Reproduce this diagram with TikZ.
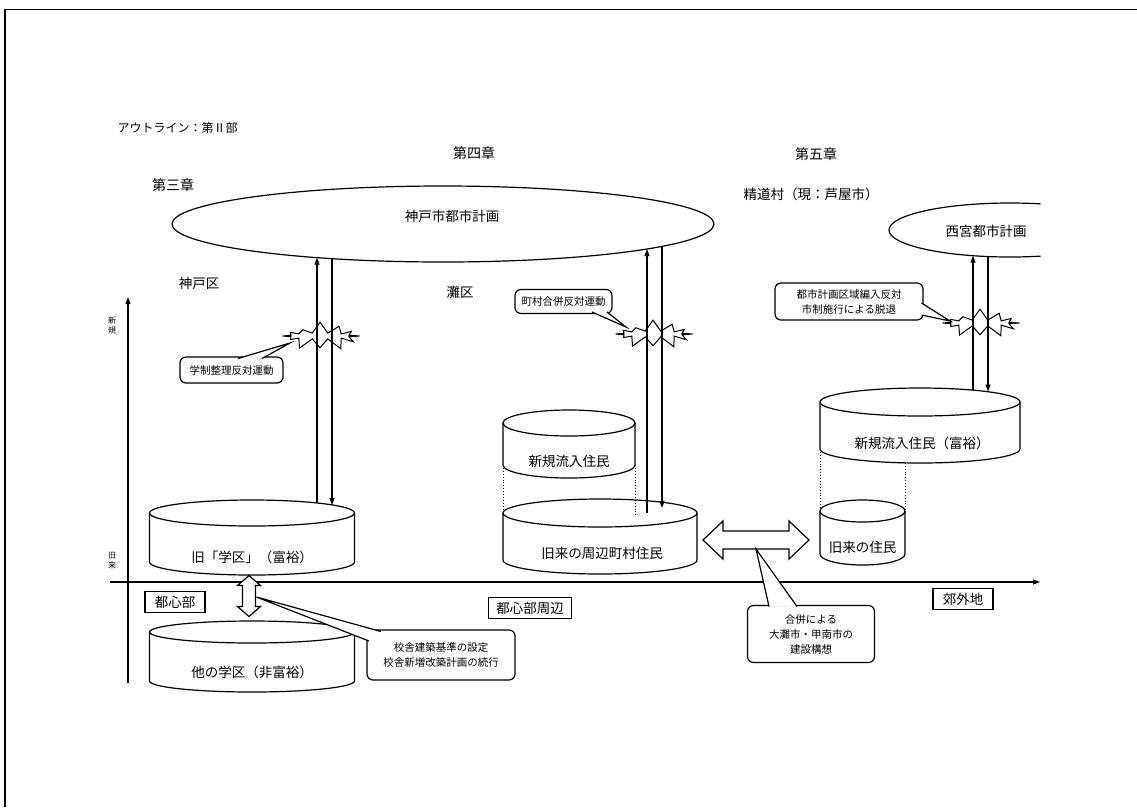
\documentclass[tikz,border=0pt]{standalone}
\usepackage{fontspec}
\setmainfont{Noto Sans CJK JP}
\usetikzlibrary{shapes.geometric,shapes.symbols,arrows.meta}
\newcommand\drawcyl[6]{%
  \node[inner sep=0pt,minimum width={2*#3pt},minimum height={(#5-#4+2*#6)*1pt}] (#1) at (#2,{(#4+#5)/2}) {};
  \draw (#2-#3,#4) -- (#2-#3,#5) arc[start angle=180,end angle=0,x radius=#3,y radius=#6] -- (#2+#3,#4);
  \draw (#2,#4) ellipse[x radius=#3,y radius=#6];
}
\newcommand\pointer[3]{%
  \fill[white] (#1) -- (#2) -- (#3) -- cycle;
  \draw (#1) -- (#2) -- (#3);
}
\begin{document}
\begin{tikzpicture}[x=1pt,y=-1pt,line width=1.2pt,
  lbl/.style={inner sep=0pt,font=\fontsize{13.5}{16}\selectfont},
  hd/.style={inner sep=0pt,font=\fontsize{14}{16}\selectfont},
  ttl/.style={inner sep=0pt,font=\fontsize{12}{14}\selectfont},
  tny/.style={inner sep=0pt,font=\fontsize{8}{10}\selectfont,align=center},
  cbox/.style={draw,rounded corners=6pt,fill=white,inner sep=2pt,font=\fontsize{10.5}{15}\selectfont,align=center},
  boxlbl/.style={draw,inner xsep=8pt,inner ysep=3pt,minimum height=21pt,font=\fontsize{13.5}{16}\selectfont},
  arr/.style={-{Triangle[length=7pt,width=5pt]}},
  dot/.style={dotted,line width=0.9pt},
  burst/.style={starburst,draw,inner sep=0pt,starburst points=12,starburst point height=12pt,random starburst=7,minimum width=84pt,minimum height=30pt,line width=1pt}]
\useasboundingbox (0,0) rectangle (1137,807);
% frame
\draw[line width=1.6pt] (5,807) -- (5,9.5) -- (1137,9.5);
% headings
\node[ttl,anchor=west] (title) at (117,128) {アウトライン：第Ⅱ部};
\node[hd] (ch4) at (474,153) {第四章};
\node[hd] (ch5) at (816,154) {第五章};
\node[hd] (ch3) at (173,185) {第三章};
\node[lbl] (seido) at (811,194) {精道村（現：芦屋市）};
\node[lbl] (kobeku) at (199,283) {神戸区};
\node[lbl] (nadaku) at (460,292) {灘区};
% Kobe city plan
\node[ellipse,draw,inner sep=0pt,minimum width=542pt,minimum height=76pt] (kobeE) at (443,224) {};
\node[lbl] (kobeplan) at (452,216) {神戸市都市計画};
% Nishinomiya plan
\begin{scope}
  \clip (850,150) rectangle (1040.5,300);
  \node[ellipse,draw,inner sep=0pt,minimum width=242pt,minimum height=54pt] (nishiE) at (1010,230) {};
\end{scope}
\node[lbl] (nishiplan) at (986,231) {西宮都市計画};
% axes
\coordinate (yb) at (128,683);
\coordinate (yt) at (128,297);
\draw[arr] (yb) -- (yt);
\coordinate (xl) at (110,582);
\coordinate (xr) at (1040,582);
\draw[arr] (xl) -- (xr);
\node[tny] (newlbl) at (112,325) {新\\規};
\node[tny] (oldlbl) at (112,561) {旧\\来};
% cylinders
\drawcyl{kyugaku}{252}{102.5}{513}{562}{13}
\node[lbl] (kyugakut) at (252,557) {旧「学区」（富裕）};
\drawcyl{tagaku}{252}{102.5}{632}{681}{11}
\node[lbl] (tagakut) at (252,672) {他の学区（非富裕）};
\drawcyl{shinki}{569}{66}{423}{465}{13}
\node[lbl] (shinkit) at (569,461) {新規流入住民};
\drawcyl{kyurai}{600}{97}{513}{560}{14}
\node[lbl] (kyuraint) at (602,553) {旧来の周辺町村住民};
\drawcyl{fuyu}{920}{100}{402}{449}{14}
\node[lbl] (fuyut) at (922,443) {新規流入住民（富裕）};
\drawcyl{kyurai2}{862.5}{42.5}{511}{554}{11}
\node[lbl] (kyurai2t) at (862.5,547) {旧来の住民};
% dotted guide lines
\draw[dot] (503,465) -- (503,517);
\draw[dot] (635,465) -- (635,517);
\draw[dot] (820,449) -- (820,511);
\draw[dot] (905,462.8) -- (905,511);
% Kobe arrows
\coordinate (k1) at (317,{224+38*sqrt(1-((317-443)/271)^2)});
\coordinate (k2) at (332,{224+38*sqrt(1-((332-443)/271)^2)});
\draw[arr] (317,503) -- (k1);
\draw[arr] (k2) -- (332,505);
% Nada arrows
\coordinate (n1) at (647,{224+38*sqrt(1-((647-443)/271)^2)});
\coordinate (n2) at (662,{224+38*sqrt(1-((662-443)/271)^2)});
\draw[arr] (647,513) -- (n1);
\draw[arr] (n2) -- (662,508);
% Nishinomiya arrows
\coordinate (w1) at (973,{230+27*sqrt(1-((973-1010)/121)^2)});
\coordinate (w2) at (988,{230+27*sqrt(1-((988-1010)/121)^2)});
\draw[arr] (973,390) -- (w1);
\draw[arr] (w2) -- (988,391.5);
% bursts
\node[burst] (kstar) at (320,336) {};
\node[burst] (nstar) at (653,334) {};
\node[burst] (wstar) at (980,323) {};
% callouts
\node[cbox,minimum width=103pt,minimum height=26pt] (kcall) at (231.5,370) {学制整理反対運動};
\pointer{238,358.5}{290,343}{262,358.5}
\node[cbox,minimum width=97pt,minimum height=24pt] (ncall) at (563.5,301.5) {町村合併反対運動};
\pointer{592,312}{626,327}{607,312}
\node[cbox,minimum width=148pt,minimum height=37pt] (wcall) at (849,301.5) {都市計画区域編入反対\\市制施行による脱退};
\pointer{921.5,303}{950,321}{921.5,315}
% block arrows
\begin{scope}[shift={(249,596)}]
  \draw[fill=white] (0,-20.5) -- (11.5,-10.5) -- (6.5,-10.5) -- (6.5,10.5) -- (11.5,10.5) -- (0,20.5) -- (-11.5,10.5) -- (-6.5,10.5) -- (-6.5,-10.5) -- (-11.5,-10.5) -- cycle;
\end{scope}
\coordinate (vtip) at (256.5,597);
\begin{scope}[shift={(756,540)}]
  \draw[fill=white] (-53,0) -- (-33,-19) -- (-33,-9) -- (33,-9) -- (33,-19) -- (53,0) -- (33,19) -- (33,9) -- (-33,9) -- (-33,19) -- cycle;
\end{scope}
\coordinate (htip) at (756,549);
\node[cbox,minimum width=148pt,minimum height=50pt] (scall) at (441,655) {校舎建築基準の設定\\校舎新増改築計画の続行};
\pointer{369,641}{vtip}{381,631.5}
\node[cbox,minimum width=127pt,minimum height=57pt] (gcall) at (811,634) {合併による\\大灘市・甲南市の\\建設構想};
\pointer{769,606.5}{htip}{797,606.5}
% area labels
\node[boxlbl,minimum width=60pt] (toshin) at (175,602) {都心部};
\node[boxlbl] (toshinsh) at (530,608) {都心部周辺};
\node[boxlbl,minimum width=60pt] (kogai) at (963,599) {郊外地};
\end{tikzpicture}
\end{document}
